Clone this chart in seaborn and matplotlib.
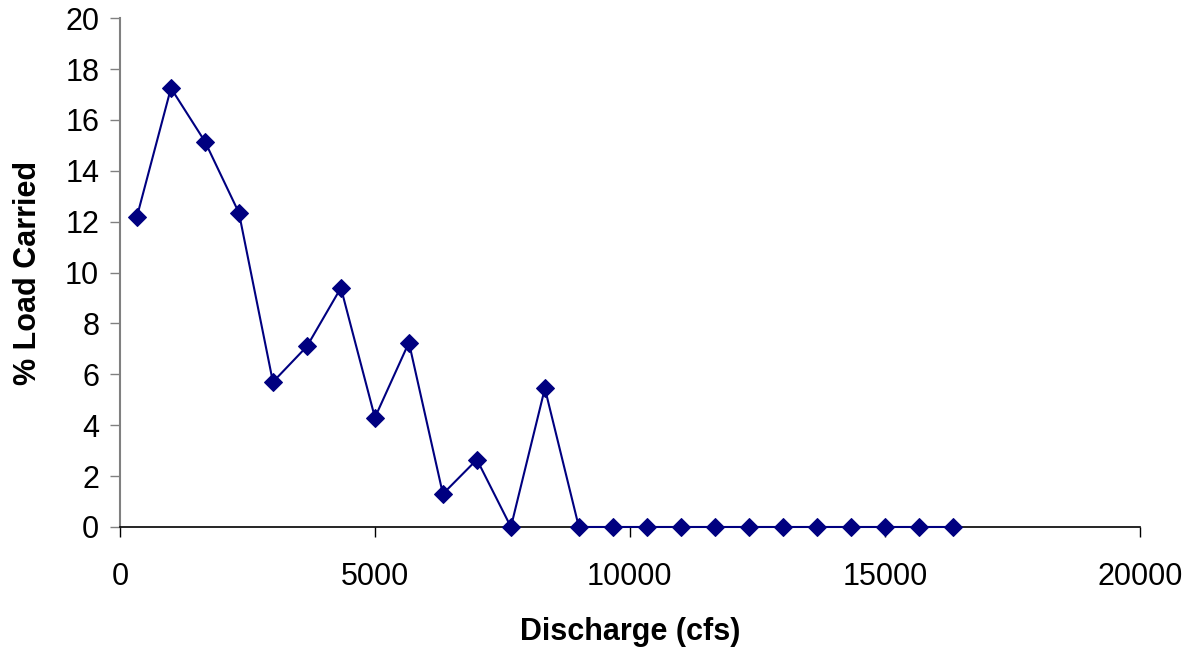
import numpy as np
import pandas as pd
import matplotlib
matplotlib.use("Agg")
import matplotlib.pyplot as plt
import seaborn as sns

# Données
discharge = [333, 1000, 1667, 2333, 3000, 3667, 4333, 5000, 5667, 6333,
             7000, 7667, 8333, 9000, 9667, 10333, 11000, 11667, 12333,
             13000, 13667, 14333, 15000, 15667, 16333]
load_pct = [12.2, 17.25, 15.15, 12.35, 5.7, 7.1, 9.4, 4.3, 7.25, 1.3,
            2.65, 0.0, 5.45, 0.0, 0.0, 0.0, 0.0, 0.0, 0.0,
            0.0, 0.0, 0.0, 0.0, 0.0, 0.0]
x_ticks = [0, 5000, 10000, 15000, 20000]
y_ticks = list(range(0, 21, 2))

df = pd.DataFrame({"discharge": discharge, "load": load_pct})

sns.set_style("white")
plt.rcParams['font.family'] = ['Liberation Sans', 'DejaVu Sans']
plt.rcParams['text.color'] = 'black'
plt.rcParams['axes.labelcolor'] = 'black'

fig = plt.figure(figsize=(11.96, 6.49), dpi=100)
ax = fig.add_axes([0.1003, 0.188, 0.8527, 0.784])

sns.lineplot(data=df, x="discharge", y="load", color="#000080",
             marker="D", markersize=9, markeredgecolor="#000080",
             linewidth=1.5, ax=ax, clip_on=False, zorder=3)

ax.set_xlim(0, 20000)
ax.set_ylim(0, 20)
ax.set_xticks(x_ticks)
ax.set_yticks(y_ticks)
ax.tick_params(axis="both", labelsize=22, direction="out", length=7,
               width=1, colors="black", bottom=True, left=True)
ax.tick_params(axis="y", color="#808080", pad=8)
ax.tick_params(axis="x", pad=18)

ax.set_xlabel("Discharge (cfs)", fontsize=22, fontweight="bold", labelpad=18)
ax.set_ylabel("% Load Carried", fontsize=22, fontweight="bold", labelpad=16)

sns.despine(ax=ax)
ax.spines["left"].set_color("#808080")
ax.spines["left"].set_linewidth(1.5)
ax.spines["bottom"].set_color("black")
ax.spines["bottom"].set_linewidth(1.2)

fig.savefig("out.png", dpi=100)
